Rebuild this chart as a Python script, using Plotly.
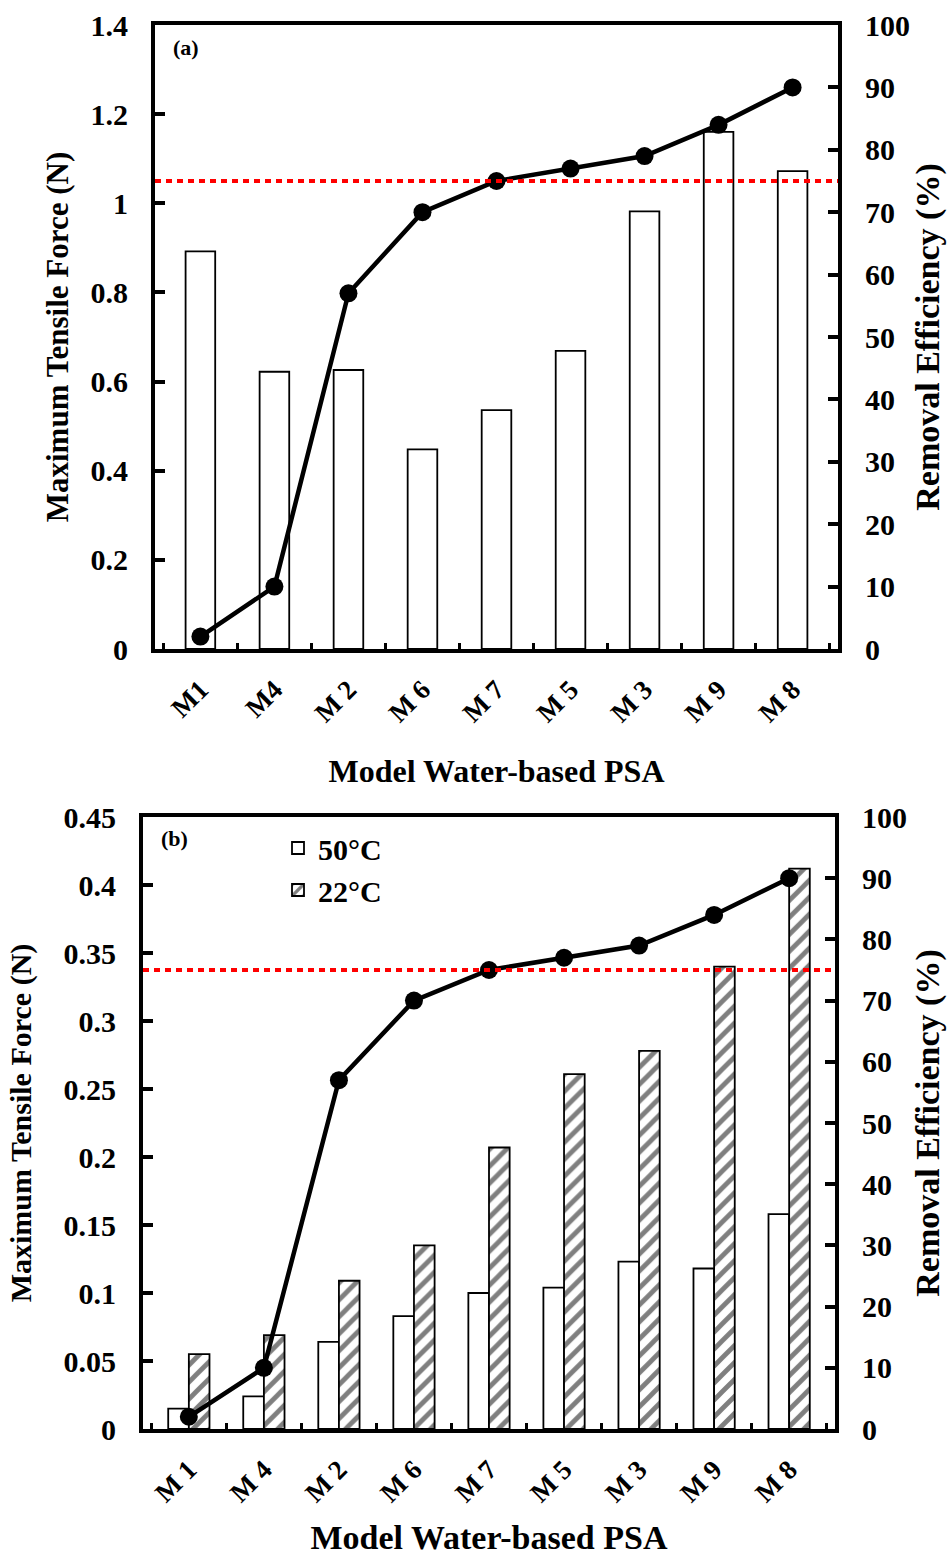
import plotly.graph_objects as go

W, H = 947, 1556

# ---------------- data ----------------
cats_a = ["M1", "M4", "M 2", "M 6", "M 7", "M 5", "M 3", "M 9", "M 8"]
cats_b = ["M 1", "M 4", "M 2", "M 6", "M 7", "M 5", "M 3", "M 9", "M 8"]
force_a = [0.892, 0.622, 0.626, 0.448, 0.536, 0.669, 0.982, 1.160, 1.072]
removal_a = [2, 10, 57, 70, 75, 77, 79, 84, 90]
removal_b = [2, 10, 57, 70, 75, 77, 79, 84, 90]
force_50 = [0.015, 0.024, 0.064, 0.083, 0.100, 0.104, 0.123, 0.118, 0.158]
force_22 = [0.055, 0.069, 0.109, 0.135, 0.207, 0.261, 0.278, 0.340, 0.412]
threshold = 75
legend_names = ["50°C", "22°C"]

FONT = "Liberation Serif, Times New Roman, serif"

fig = go.Figure()

# ----- panel (a) -----
fig.add_trace(go.Bar(x=cats_a, y=force_a, xaxis="x", yaxis="y", width=0.4,
                     marker=dict(color="white", line=dict(color="black", width=1.8)),
                     showlegend=False))
fig.add_trace(go.Scatter(x=cats_a, y=removal_a, xaxis="x", yaxis="y3", mode="lines+markers",
                         line=dict(color="black", width=4.5),
                         marker=dict(color="black", size=18), showlegend=False))

# ----- panel (b) -----
fig.add_trace(go.Bar(x=cats_b, y=force_50, xaxis="x2", yaxis="y2", name=legend_names[0],
                     marker=dict(color="white", line=dict(color="black", width=1.8))))
fig.add_trace(go.Bar(x=cats_b, y=force_22, xaxis="x2", yaxis="y2", name=legend_names[1],
                     marker=dict(color="white", line=dict(color="black", width=1.8),
                                 pattern=dict(shape="/", fgcolor="black", bgcolor="white",
                                              size=12, solidity=0.4))))
fig.add_trace(go.Scatter(x=cats_b, y=removal_b, xaxis="x2", yaxis="y4", mode="lines+markers",
                         line=dict(color="black", width=4.5),
                         marker=dict(color="black", size=18), showlegend=False))


def f(size):
    return dict(family=FONT, size=size, color="black", weight="bold")


def xax(domain, anchor, title_size, standoff):
    return dict(domain=domain, anchor=anchor, type="category", showline=True, linewidth=4,
                linecolor="black", mirror=True, ticks="inside", tickson="boundaries",
                ticklen=6, tickwidth=3, tickcolor="black", tickangle=-45,
                tickfont=f(27), showgrid=False, zeroline=False, automargin=False,
                ticklabelstandoff=10,
                title=dict(text="Model Water-based PSA", font=f(title_size), standoff=standoff))


def yax(domain, anchor, rng, dtick, title, title_size, side="left", overlay=None, standoff=14):
    d = dict(domain=domain, anchor=anchor, range=rng, dtick=dtick, side=side,
             showline=True, linewidth=4, linecolor="black", ticks="inside",
             ticklen=10, tickwidth=4, tickcolor="black", tickfont=f(30),
             showgrid=False, zeroline=False, ticklabelstandoff=17, automargin=False,
             title=dict(text=title, font=f(title_size), standoff=standoff))
    if overlay:
        d["overlaying"] = overlay
    return d


dom_a = [1 - 649 / H, 1 - 25 / H]
dom_b = [1 - 1429 / H, 1 - 817 / H]

fig.update_layout(
    width=W, height=H, margin=dict(l=0, r=0, t=0, b=0, autoexpand=False),
    paper_bgcolor="white", plot_bgcolor="white",
    font=dict(family=FONT, color="black", weight="bold"),
    barmode="group", bargap=0.45, bargroupgap=0,
    xaxis=xax([155 / W, 838 / W], "y", 32, 34),
    xaxis2=xax([143 / W, 835 / W], "y2", 34, 35),
    yaxis=yax(dom_a, "x", [0, 1.4], 0.2, "Maximum Tensile Force (N)", 31),
    yaxis3=yax(dom_a, "x", [0, 100], 10, "Removal Efficiency (%)", 34, side="right", overlay="y"),
    yaxis2=yax(dom_b, "x2", [0, 0.45], 0.05, "Maximum Tensile Force (N)", 30, standoff=24),
    yaxis4=yax(dom_b, "x2", [0, 100], 10, "Removal Efficiency (%)", 34, side="right", overlay="y2"),
    legend=dict(x=278 / W, y=1 - 822 / H, xanchor="left", yanchor="top",
                font=f(30), bgcolor="rgba(0,0,0,0)"),
    showlegend=True,
)

# threshold lines
for xr, yr in (("x domain", "y3"), ("x2 domain", "y4")):
    fig.add_shape(type="line", xref=xr, yref=yr, x0=0, x1=1, y0=threshold, y1=threshold,
                  line=dict(color="red", width=4, dash="6px,5px"), layer="above")

fig.add_annotation(text="(a)", xref="paper", yref="paper", x=186 / W, y=1 - 48 / H,
                   xanchor="center", yanchor="middle", showarrow=False, font=f(22))
fig.add_annotation(text="(b)", xref="paper", yref="paper", x=174 / W, y=1 - 838 / H,
                   xanchor="center", yanchor="middle", showarrow=False, font=f(22))

fig.write_html("out.html")
